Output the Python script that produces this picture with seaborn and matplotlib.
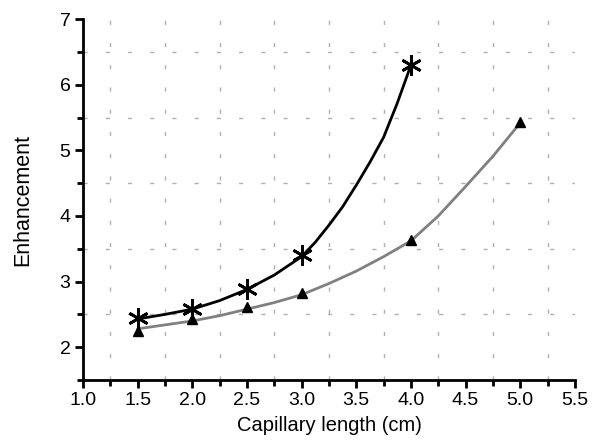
"""Enhancement vs capillary length, two fitted series."""
import matplotlib
matplotlib.use('Agg')
import matplotlib.pyplot as plt
from matplotlib.ticker import MultipleLocator
import seaborn as sns

# measured points
star_x = [1.5, 2.0, 2.5, 3.0, 4.0]
star_y = [2.44, 2.58, 2.89, 3.40, 6.30]
tri_x = [1.5, 2.0, 2.5, 3.0, 4.0, 5.0]
tri_y = [2.24, 2.43, 2.62, 2.82, 3.63, 5.44]

# fitted curves
fit_star_x = [1.5, 1.75, 2.0, 2.25, 2.5, 2.75, 3.0, 3.125, 3.25, 3.375, 3.5,
              3.625, 3.75, 3.875, 4.0]
fit_star_y = [2.43, 2.50, 2.58, 2.71, 2.88, 3.10, 3.38, 3.60, 3.86, 4.14, 4.47,
              4.82, 5.20, 5.72, 6.30]
fit_tri_x = [1.5, 1.75, 2.0, 2.25, 2.5, 2.75, 3.0, 3.25, 3.5, 3.75, 4.0, 4.25, 4.5, 4.75, 5.0]
fit_tri_y = [2.28, 2.34, 2.40, 2.48, 2.58, 2.68, 2.80, 2.97, 3.16, 3.38, 3.62, 4.00, 4.45, 4.91, 5.42]

sns.set_style('ticks', {'axes.edgecolor': 'black', 'text.color': 'black',
                        'xtick.color': 'black', 'ytick.color': 'black',
                        'axes.labelcolor': 'black'})
plt.rcParams['font.family'] = ['Liberation Sans', 'DejaVu Sans']

fig = plt.figure(figsize=(5.97, 4.46), dpi=100)
ax = fig.add_axes([0.139, 0.148, 0.824, 0.809])

# curves
sns.lineplot(x=fit_tri_x, y=fit_tri_y, color='#808080', linewidth=2, ax=ax, sort=False)
sns.lineplot(x=fit_star_x, y=fit_star_y, color='black', linewidth=2, ax=ax, sort=False)

# markers
ax.plot(tri_x, tri_y, linestyle='none', marker='^', color='black', markersize=7.5)
ax.plot(star_x, star_y, linestyle='none', marker=(6, 2, 0), color='black',
        markersize=15, markeredgewidth=2)

ax.set_xlim(1.0, 5.5)
ax.set_ylim(1.5, 7.0)
ax.xaxis.set_major_locator(MultipleLocator(0.5))
ax.xaxis.set_minor_locator(MultipleLocator(0.25))
ax.yaxis.set_major_locator(MultipleLocator(1))
ax.yaxis.set_minor_locator(MultipleLocator(0.5))
ax.set_yticks([2, 3, 4, 5, 6, 7])

# grid only at minor positions, sparse short dashes
ax.grid(False)
ax.grid(which='minor', color='#b0b0b0', linestyle=(0, (3, 13)), linewidth=1)

sns.despine(ax=ax)
for s in ['left', 'bottom']:
    ax.spines[s].set_linewidth(2)
ax.tick_params(which='major', direction='out', length=6, width=2, labelsize=14, pad=3)
ax.tick_params(which='minor', direction='out', length=4, width=2)

ax.set_xlabel('Capillary length (cm)', fontsize=14.5, labelpad=5)
ax.set_ylabel('Enhancement', fontsize=15.5, labelpad=19)

fig.savefig('out.png', dpi=100)
